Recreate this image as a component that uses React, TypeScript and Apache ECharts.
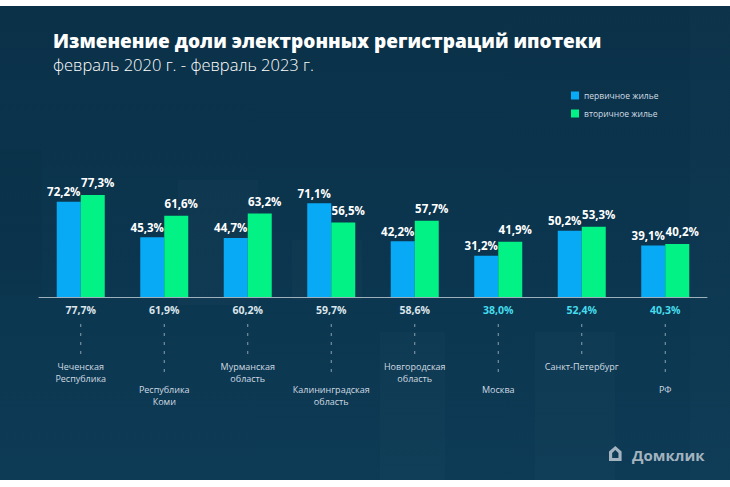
import React, { useEffect, useRef } from "react";
import * as echarts from "echarts";

const categories = [
  "Чеченская\nРеспублика",
  "Республика\nКоми",
  "Мурманская\nобласть",
  "Калининградская\nобласть",
  "Новгородская\nобласть",
  "Москва",
  "Санкт-Петербург",
  "РФ",
];
const primaryValues = [72.2, 45.3, 44.7, 71.1, 42.2, 31.2, 50.2, 39.1];
const secondaryValues = [77.3, 61.6, 63.2, 56.5, 57.7, 41.9, 53.3, 40.2];
const totalValues = [77.7, 61.9, 60.2, 59.7, 58.6, 38.0, 52.4, 40.3];
const highlighted = [false, false, false, false, false, true, true, true];
const seriesNames = ["первичное жилье", "вторичное жилье"];

const BLUE = "#08aaf6";
const GREEN = "#02f285";
const FONT = "'Open Sans', 'Noto Sans', sans-serif";

const fmt = (v: number) => v.toFixed(1).replace(".", ",") + "%";

const housePath =
  "M0 5.5 L6 0 L12 5.5 L12 15 L3 15 L3 12 L9 12 L9 7 L6 4 L3 7 L3 15 L0 15 Z";

export default function App() {
  const ref = useRef<HTMLDivElement>(null);
  useEffect(() => {
    if (!ref.current) return;
    echarts.graphic.registerShape("logo", echarts.graphic.extendPath(housePath, {}) as any);
    const chart = echarts.init(ref.current, null, { renderer: "svg" });
    const option: any = {
      animation: false,
      backgroundColor: "#ffffff",
      graphic: [
        {
          type: "rect",
          z: -10,
          shape: { x: 0, y: 6, width: 730, height: 474 },
          style: {
            fill: new echarts.graphic.LinearGradient(0, 0, 0, 1, [
              { offset: 0, color: "#0a3148" },
              { offset: 1, color: "#0d3a55" },
            ]),
          },
        },
        { type: "rect", z: -9, shape: { x: 178, y: 180, width: 80, height: 125 }, style: { fill: "rgba(255,255,255,0.02)" } },
        { type: "rect", z: -9, shape: { x: 0, y: 150, width: 42, height: 145 }, style: { fill: "rgba(0,0,0,0.03)" } },
        { type: "rect", z: -9, shape: { x: 292, y: 240, width: 70, height: 60 }, style: { fill: "rgba(255,255,255,0.015)" } },
        { type: "rect", z: -9, shape: { x: 380, y: 332, width: 65, height: 148 }, style: { fill: "rgba(255,255,255,0.015)" } },
        { type: "rect", z: -9, shape: { x: 535, y: 332, width: 80, height: 148 }, style: { fill: "rgba(255,255,255,0.015)" } },
        { type: "rect", z: -9, shape: { x: 690, y: 6, width: 40, height: 474 }, style: { fill: "rgba(255,255,255,0.012)" } },
        {
          type: "text",
          x: 53,
          y: 41,
          style: {
            text: "Изменение доли электронных регистраций ипотеки",
            fill: "#ffffff",
            font: `800 19px ${FONT}`,
            textVerticalAlign: "middle",
          },
        },
        {
          type: "text",
          x: 53,
          y: 64.5,
          style: {
            text: "февраль 2020 г. - февраль 2023 г.",
            fill: "#ffffff",
            font: `300 16.5px ${FONT}`,
            textVerticalAlign: "middle",
          },
        },
        {
          type: "logo",
          x: 609,
          y: 446,
          scaleX: 1.05,
          scaleY: 1.0,
          style: { fill: "#a3b3bf" },
        },
        {
          type: "text",
          x: 632,
          y: 455,
          style: {
            text: "Домклик",
            fill: "#a3b3bf",
            font: `700 15px ${FONT}`,
            textVerticalAlign: "middle",
          },
        },
      ],
      legend: {
        data: seriesNames,
        orient: "vertical",
        left: 571,
        top: 91,
        padding: 0,
        itemWidth: 8,
        itemHeight: 8,
        itemGap: 9,
        icon: "rect",
        textStyle: { color: "#d0dbe2", fontSize: 8.5, fontFamily: FONT },
      },
      grid: { left: 39, width: 668, top: 165, height: 132 },
      xAxis: {
        type: "category",
        data: categories,
        axisLine: { show: true, lineStyle: { color: "#9fb0bd", width: 1 } },
        axisTick: { show: false },
        axisLabel: { show: false },
      },
      yAxis: {
        type: "value",
        min: 0,
        max: 100,
        show: false,
        splitLine: { show: false },
      },
      series: [
        {
          name: seriesNames[0],
          type: "bar",
          data: primaryValues,
          barWidth: 24,
          barGap: "0%",
          itemStyle: { color: BLUE },
          label: {
            show: true,
            position: "top",
            offset: [-5, 0],
            distance: 4,
            color: "#ffffff",
            fontFamily: FONT,
            fontWeight: 700,
            fontSize: 11.5,
            formatter: (p: any) => fmt(p.value),
          },
        },
        {
          name: seriesNames[1],
          type: "bar",
          data: secondaryValues,
          barWidth: 24,
          barGap: "0%",
          itemStyle: { color: GREEN },
          label: {
            show: true,
            position: "top",
            offset: [5, 0],
            distance: 6,
            color: "#ffffff",
            fontFamily: FONT,
            fontWeight: 700,
            fontSize: 11.5,
            formatter: (p: any) => fmt(p.value),
          },
        },
        {
          name: "total",
          type: "custom",
          clip: false,
          silent: true,
          data: totalValues.map((v, i) => [i, v]),
          encode: { x: 0, y: 1 },
          renderItem: (params: any, api: any) => {
            const idx = api.value(0);
            const pt = api.coord([idx, 0]);
            const x = pt[0];
            const y0 = pt[1];
            const long = idx % 2 === 1;
            const lineEnd = long ? y0 + 81 : y0 + 58;
            const nameTop = long ? y0 + 86 : y0 + 63;
            return {
              type: "group",
              children: [
                {
                  type: "text",
                  x,
                  y: y0 + 13,
                  style: {
                    text: fmt(totalValues[idx]),
                    fill: highlighted[idx] ? "#45dcec" : "#dbe5eb",
                    font: `700 10.5px ${FONT}`,
                    textAlign: "center",
                    textVerticalAlign: "middle",
                  },
                },
                {
                  type: "line",
                  shape: { x1: x, y1: y0 + 27, x2: x, y2: lineEnd },
                  style: {
                    stroke: "rgba(190,205,215,0.7)",
                    lineWidth: 1,
                    lineDash: [3, 6],
                  },
                },
                {
                  type: "text",
                  x,
                  y: nameTop,
                  style: {
                    text: categories[idx],
                    fill: "#cfdae1",
                    font: `400 9px ${FONT}`,
                    lineHeight: 12,
                    textAlign: "center",
                    textVerticalAlign: "top",
                  },
                },
              ],
            };
          },
        },
      ],
    };
    chart.setOption(option);
    return () => chart.dispose();
  }, []);
  return (
    <div
      ref={ref}
      style={{ position: "fixed", left: 0, top: 0, width: 730, height: 487 }}
    />
  );
}
